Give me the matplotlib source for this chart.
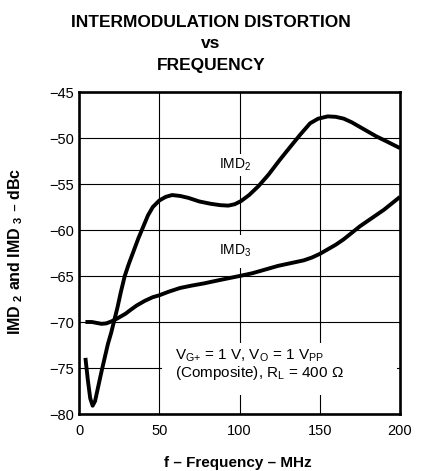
import matplotlib
matplotlib.use('Agg')
import matplotlib.pyplot as plt
from matplotlib.patches import Rectangle

plt.rcParams['font.family'] = ['Liberation Sans', 'DejaVu Sans']
plt.rcParams['mathtext.default'] = 'regular'

# IMD2 curve (MHz, dBc)
imd2_freq = [4, 5.5, 7, 8.5, 10, 11, 12, 14, 16, 18, 20, 22, 24, 26, 28.5, 31, 34, 37, 40,
             43, 46, 50, 54, 58, 63, 68, 75, 82, 88, 93, 97, 101, 106, 112, 118, 125,
             131, 138, 144, 149, 155, 160, 165, 170, 177, 185, 192, 200]
imd2_dbc = [-73.9, -76.3, -78.3, -79.1, -78.6, -77.8, -77.0, -75.4, -73.9, -72.4, -71.2,
            -69.8, -68.4, -66.8, -65.0, -63.7, -62.3, -60.9, -59.65, -58.4, -57.5, -56.8,
            -56.4, -56.2, -56.3, -56.5, -56.9, -57.15, -57.3, -57.35, -57.2, -56.85, -56.2,
            -55.2, -54.0, -52.4, -51.1, -49.6, -48.4, -47.9, -47.65, -47.7, -47.9, -48.3,
            -49.0, -49.8, -50.4, -51.1]

# IMD3 curve
imd3_freq = [4, 8, 11, 14, 17, 20, 23, 26, 29, 32, 36, 41, 46, 50, 56, 63, 70, 78, 86,
             93, 100, 108, 116, 124, 132, 140, 145, 150, 155, 160, 165, 170, 175, 180,
             185, 190, 195, 200]
imd3_dbc = [-70.0, -70.0, -70.1, -70.2, -70.15, -69.95, -69.7, -69.4, -69.1, -68.7, -68.2,
            -67.7, -67.3, -67.1, -66.7, -66.3, -66.05, -65.8, -65.5, -65.25, -65.0, -64.7,
            -64.3, -63.9, -63.6, -63.3, -63.0, -62.6, -62.1, -61.6, -61.0, -60.3, -59.6,
            -59.0, -58.4, -57.8, -57.1, -56.4]

x_ticks = [0, 50, 100, 150, 200]
y_ticks = [-80, -75, -70, -65, -60, -55, -50, -45]

W, H = 422, 471
fig = plt.figure(figsize=(W / 100, H / 100), dpi=100)
ax = fig.add_axes([79 / W, 1 - 414 / H, (400 - 79) / W, (414 - 92) / H])

ax.plot(imd2_freq, imd2_dbc, color='black', lw=2.8, solid_joinstyle='round',
        solid_capstyle='butt', zorder=3)
ax.plot(imd3_freq, imd3_dbc, color='black', lw=2.8, solid_joinstyle='round',
        solid_capstyle='butt', zorder=3)

ax.set_xlim(0, 200)
ax.set_ylim(-80, -45)
ax.set_xticks(x_ticks)
ax.set_yticks(y_ticks)
ax.set_yticklabels(['\u2212%d' % abs(v) for v in y_ticks])
ax.tick_params(length=0, labelsize=10.5)
ax.tick_params(axis='x', pad=7)
ax.tick_params(axis='y', pad=3.5)
ax.set_axisbelow(True)
ax.grid(True, color='black', lw=0.8)
for s in ax.spines.values():
    s.set_linewidth(1.9)

# white area behind the conditions note (grid is broken there)
ax.add_patch(Rectangle((52, -77.9), 146, 5.6, facecolor='white', edgecolor='none', zorder=1))

ax.text(60, -74.13, 'V$_{G{+}}$ = 1 V, V$_O$ = 1 V$_{PP}$', fontsize=11, va='baseline', zorder=4)
ax.text(60, -75.98, '(Composite), R$_L$ = 400 \u03a9', fontsize=11, va='baseline', zorder=4)

ax.text(87.4, -53.3, 'IMD$_2$', fontsize=10, va='baseline', zorder=4,
        bbox=dict(boxstyle='square,pad=0.2', fc='white', ec='none'))
ax.text(87.4, -62.7, 'IMD$_3$', fontsize=10, va='baseline', zorder=4,
        bbox=dict(boxstyle='square,pad=0.6', fc='white', ec='none'))

fig.text(0.5, 1 - 26.7 / H, 'INTERMODULATION DISTORTION', ha='center', va='baseline',
         fontsize=12.5, fontweight='bold')
fig.text(0.5, 1 - 48.3 / H, 'vs', ha='center', va='baseline', fontsize=12.5, fontweight='bold')
fig.text(0.5, 1 - 70 / H, 'FREQUENCY', ha='center', va='baseline', fontsize=12.5, fontweight='bold')

fig.text(238 / W, 1 - 467 / H, 'f \u2013 Frequency \u2013 MHz', ha='center', va='baseline',
         fontsize=11, fontweight='bold')
fig.text(16 / W, 1 - 251 / H, 'IMD $_2$ and IMD $_3$ \u2013 dBc', rotation=90, ha='center',
         va='center', fontsize=11.5, fontweight='bold')

fig.savefig('out.png', dpi=100)
